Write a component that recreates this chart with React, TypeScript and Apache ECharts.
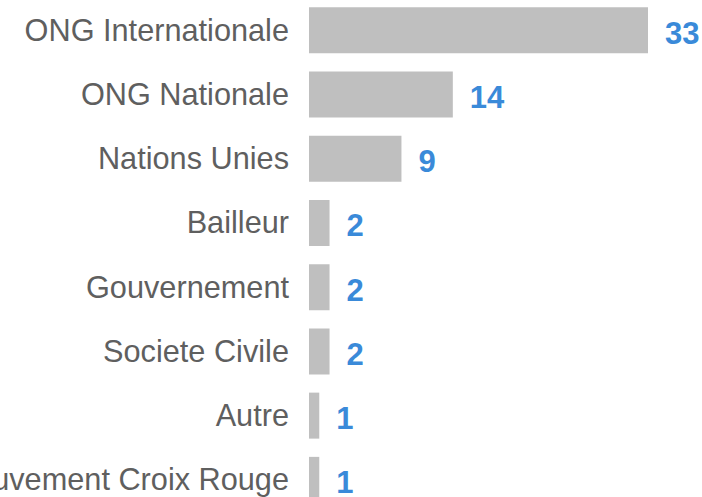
import React, { useEffect, useRef } from "react";
import * as echarts from "echarts";

const categories = [
  "ONG Internationale",
  "ONG Nationale",
  "Nations Unies",
  "Bailleur",
  "Gouvernement",
  "Societe Civile",
  "Autre",
  "Mouvement Croix Rouge",
];
const values = [33, 14, 9, 2, 2, 2, 1, 1];

export default function App() {
  const ref = useRef<HTMLDivElement>(null);
  useEffect(() => {
    if (!ref.current) return;
    const chart = echarts.init(ref.current, null, { renderer: "svg" });
    chart.setOption({
      animation: false,
      grid: {
        left: 309,
        right: 54,
        top: 8,
        height: 514,
        containLabel: false,
        outerBoundsMode: "none",
      },
      xAxis: {
        type: "value",
        min: 0,
        max: 33,
        show: false,
      },
      yAxis: {
        type: "category",
        data: categories,
        inverse: true,
        axisLine: { show: false },
        axisTick: { show: false },
        splitLine: { show: false },
        axisLabel: {
          margin: 20,
          color: "#5f5f5f",
          fontSize: 30.7,
          fontFamily: "Liberation Sans, Arial, sans-serif",
        },
      },
      series: [
        {
          type: "bar",
          data: values,
          barWidth: 46,
          itemStyle: { color: "#bfbfbf" },
          label: {
            show: true,
            position: "right",
            distance: 17,
            offset: [0, 3],
            color: "#3a8ad9",
            fontSize: 31,
            fontWeight: "bold",
            fontFamily: "Liberation Sans, Arial, sans-serif",
          },
        },
      ],
    });
    return () => chart.dispose();
  }, []);
  return (
    <div
      ref={ref}
      style={{ position: "absolute", left: 0, top: -10, width: 702, height: 530 }}
    />
  );
}
